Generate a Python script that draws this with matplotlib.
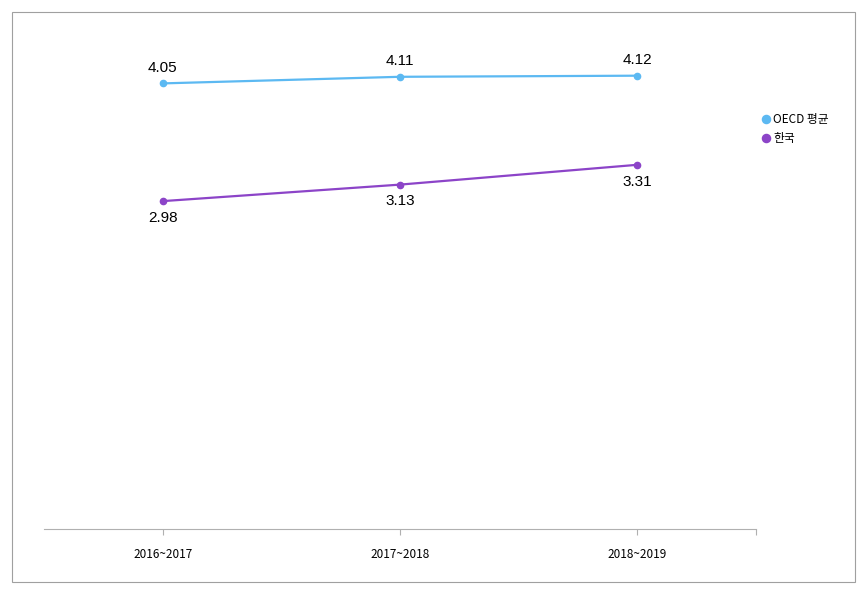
import matplotlib.pyplot as plt
from matplotlib.patches import Rectangle

plt.rcParams['font.family'] = ['Noto Sans CJK KR', 'DejaVu Sans']

periods = ['2016~2017', '2017~2018', '2018~2019']
oecd = [4.05, 4.11, 4.12]
korea = [2.98, 3.13, 3.31]

oecd_color = '#5cb9f2'
korea_color = '#8c44c8'

fig = plt.figure(figsize=(8.68, 5.94), dpi=100)
fig.patches.append(Rectangle((0.014, 0.02), 0.971, 0.96, transform=fig.transFigure,
                             fill=False, edgecolor='#a0a0a0', linewidth=0.8))

ax = fig.add_axes([0.0507, 0.1094, 0.82, 0.828])
x = list(range(len(periods)))
ax.plot(x, oecd, color=oecd_color, lw=1.6, marker='o', ms=4.5, label='OECD 평균')
ax.plot(x, korea, color=korea_color, lw=1.6, marker='o', ms=4.5, label='한국')

for xi, v in zip(x, oecd):
    ax.annotate(f'{v:.2f}', (xi, v), xytext=(0, 6), textcoords='offset points',
                ha='center', va='bottom', fontsize=11, family='Liberation Sans')
for xi, v in zip(x, korea):
    ax.annotate(f'{v:.2f}', (xi, v), xytext=(0, -7), textcoords='offset points',
                ha='center', va='top', fontsize=11, family='Liberation Sans')

ax.set_xlim(-0.5, 2.5)
ax.set_ylim(0, 4.47)
for s in ['top', 'left', 'right']:
    ax.spines[s].set_visible(False)
ax.spines['bottom'].set_color('#b0b0b0')
ax.set_yticks([])
ax.set_xticks(x + [2.5])
ax.set_xticklabels(periods + [''], fontsize=8.5)
ax.tick_params(axis='x', length=4, color='#b0b0b0', pad=10)

ax.legend(loc='upper left', bbox_to_anchor=(0.995, 0.868), frameon=False, fontsize=8.5,
          handlelength=0.6, handletextpad=0.3, labelspacing=0.55, markerscale=1.3)
leg = ax.get_legend()
for h in leg.legend_handles:
    h.set_linestyle('')

fig.savefig('out.png', dpi=100)
